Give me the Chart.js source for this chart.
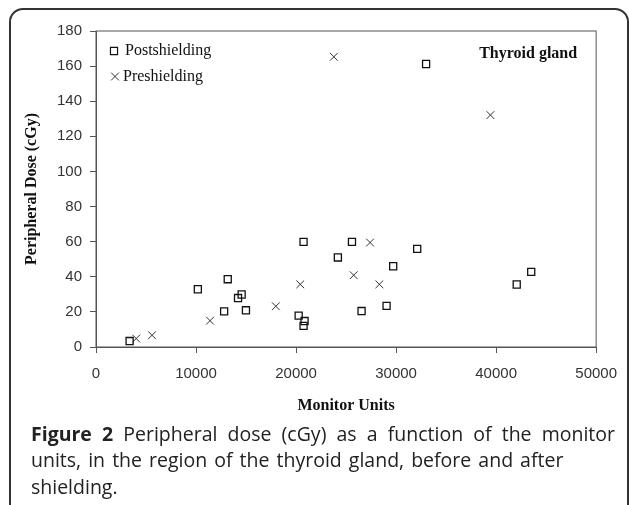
<!DOCTYPE html>
<html>
<head>
<meta charset="utf-8">
<script src="https://cdn.jsdelivr.net/npm/chart.js@4.4.1/dist/chart.umd.min.js"></script>
<style>
  html, body { margin: 0; padding: 0; background: #fff; width: 629px; height: 505px; overflow: hidden; }
  #frame {
    position: absolute; left: 9px; top: 8px; width: 620px; height: 530px;
    box-sizing: border-box; border: 2px solid #333; border-radius: 14px 14px 0 0;
  }
  #chart { position: absolute; left: 0; top: 0; }
  #caption {
    position: absolute; left: 31px; top: 421px; width: 584px;
    font-family: "Open Sans", sans-serif; font-size: 19.5px; line-height: 26.3px;
    word-spacing: 2px; color: #222; white-space: nowrap;
  }
  #caption .l1 { text-align: justify; text-align-last: justify; }
  #caption b { font-weight: bold; }
</style>
</head>
<body>
<div id="frame"></div>
<canvas id="chart" width="629" height="430"></canvas>
<div id="caption"><div class="l1"><b>Figure 2</b> Peripheral dose (cGy) as a function of the monitor</div><div>units, in the region of the thyroid gland, before and after</div><div>shielding.</div></div>
<script>
// Postshielding (squares)
const postMU = [3360, 10180, 12810, 13170, 14200, 14560, 14990, 20260, 20750, 20750,
                20850, 24180, 25590, 26550, 29050, 29710, 32110, 33000, 42060, 43510];
const postDose = [3.4, 32.9, 20.3, 38.6, 27.9, 29.9, 20.9, 17.9, 59.9, 12.0,
                  14.8, 51.0, 59.9, 20.5, 23.4, 46.0, 55.9, 161.2, 35.6, 42.8];

// Preshielding (crosses)
const preMU = [4020, 5600, 11400, 17980, 20420, 23780, 25760, 27400, 28330, 39430];
const preDose = [4.8, 6.7, 15.0, 23.2, 35.7, 165.3, 40.9, 59.5, 35.7, 132.1];

const xTicks = [0, 10000, 20000, 30000, 40000, 50000];
const yTicks = [0, 20, 40, 60, 80, 100, 120, 140, 160, 180];

function toPoints(xs, ys) {
    return xs.map((x, i) => ({ x: x, y: ys[i] }));
}

// cadre du graphique + légende + étiquette "Thyroid gland"
const extras = {
    id: 'extras',
    afterDraw(chart) {
        const ctx = chart.ctx;
        const a = chart.chartArea;
        ctx.save();
        ctx.strokeStyle = '#555';
        ctx.lineWidth = 1;
        ctx.strokeRect(a.left, a.top, a.right - a.left, a.bottom - a.top);

        // symboles de la légende (creux)
        ctx.fillStyle = 'rgba(0,0,0,0)';
        ctx.strokeStyle = '#111';
        ctx.lineWidth = 1.2;
        Chart.helpers.drawPoint(ctx, { pointStyle: 'rect', radius: 5, borderWidth: 1.2 }, a.left + 18, a.top + 20);
        ctx.strokeStyle = '#333';
        ctx.lineWidth = 1;
        Chart.helpers.drawPoint(ctx, { pointStyle: 'crossRot', radius: 5.5, borderWidth: 1 }, a.left + 19, a.top + 45.5);

        ctx.fillStyle = '#111';
        ctx.textBaseline = 'middle';
        ctx.font = '16px "Liberation Serif"';
        ctx.textAlign = 'left';
        ctx.fillText('Postshielding', a.left + 29, a.top + 20);
        ctx.fillText('Preshielding', a.left + 27, a.top + 45.5);

        ctx.font = 'bold 16px "Liberation Serif"';
        ctx.textAlign = 'right';
        ctx.fillText('Thyroid gland', a.right - 19, a.top + 23);
        ctx.restore();
    }
};

const tickFont = { family: '"Liberation Sans", Arial, sans-serif', size: 15 };
const titleFont = { family: '"Liberation Serif"', size: 16, weight: 'bold' };

new Chart(document.getElementById('chart').getContext('2d'), {
    type: 'scatter',
    data: {
        datasets: [{
            label: 'Postshielding',
            data: toPoints(postMU, postDose),
            pointStyle: 'rect',
            pointRadius: 5,
            borderColor: '#111',
            borderWidth: 1.3,
            backgroundColor: 'rgba(0,0,0,0)'
        }, {
            label: 'Preshielding',
            data: toPoints(preMU, preDose),
            pointStyle: 'crossRot',
            pointRadius: 5.5,
            borderColor: '#333',
            borderWidth: 1
        }]
    },
    options: {
        responsive: false,
        animation: false,
        layout: { padding: { left: 0, top: 31, right: 27, bottom: 0 } },
        plugins: {
            legend: { display: false },
            tooltip: { enabled: false }
        },
        scales: {
            x: {
                type: 'linear',
                min: 0,
                max: 50000,
                afterBuildTicks: s => { s.ticks = xTicks.map(v => ({ value: v })); },
                afterFit: s => { s.height = 83; },
                ticks: { font: tickFont, color: '#333', padding: 12, callback: v => String(v) },
                grid: { drawOnChartArea: false, tickLength: 6, color: '#555' },
                border: { color: '#555', width: 1 },
                title: {
                    display: true,
                    text: 'Monitor Units',
                    font: titleFont,
                    color: '#111',
                    padding: { top: 0, bottom: 15 }
                }
            },
            y: {
                min: 0,
                max: 180,
                afterBuildTicks: s => { s.ticks = yTicks.map(v => ({ value: v })); },
                afterFit: s => { s.width = 96; },
                ticks: { font: tickFont, color: '#333', padding: 8, callback: v => String(v) },
                grid: { drawOnChartArea: false, tickLength: 6, color: '#555' },
                border: { color: '#555', width: 1 },
                title: {
                    display: true,
                    text: 'Peripheral Dose (cGy)',
                    font: titleFont,
                    color: '#111',
                    padding: { top: 22, bottom: 0 }
                }
            }
        }
    },
    plugins: [extras]
});
</script>
</body>
</html>
